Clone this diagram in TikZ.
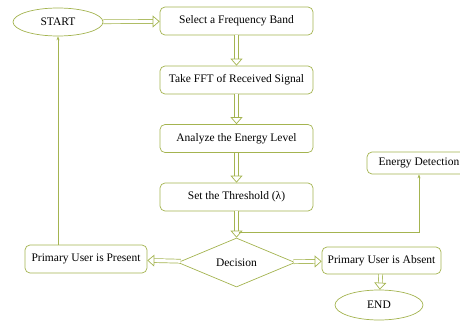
\documentclass[tikz,border=0pt]{standalone}
\usepackage{fontspec}
\setmainfont{Liberation Serif}
\usetikzlibrary{shapes.geometric,arrows.meta}
\definecolor{olivebox}{RGB}{164,180,80}
\begin{document}
\begin{tikzpicture}[x=1pt,y=-1pt]
			\tikzstyle{every node}+=[font=\fontsize{11.5}{13}\selectfont,inner sep=1pt]
			\tikzstyle{stepbox}=[draw=olivebox,fill=white,rounded corners=5pt,minimum width=153pt,minimum height=28pt,line width=0.7pt]
			\tikzstyle{termbox}=[draw=olivebox,fill=white,ellipse,line width=0.7pt]
			\tikzstyle{blockarrow}=[draw=olivebox,double=white,double distance=3.2pt,line width=0.7pt,-{Triangle[open,length=7pt,width=12pt,line width=0.7pt]}]
			\tikzstyle{thinarrow}=[draw=olivebox,line width=0.7pt,-{Stealth[length=4pt,width=3pt]}]
			\useasboundingbox (0,0) rectangle (460,321);
			\clip (0,0) rectangle (460,321);
			\node [termbox,minimum width=90pt,minimum height=28pt] (start) at (58,22) {START};
			\node [stepbox] (band) at (236.5,21) {Select a Frequency Band};
			\node [stepbox] (fft) at (236.5,80) {Take FFT of Received Signal};
			\node [stepbox] (level) at (236.5,138.5) {Analyze the Energy Level};
			\node [stepbox] (thresh) at (236.5,197) {Set the Threshold (λ)};
			\node [draw=olivebox,fill=white,diamond,aspect=2.4,inner sep=0pt,minimum width=117pt,minimum height=49pt,line width=0.7pt] (decide) at (236.5,262.5) {Decision};
			\node [stepbox,minimum width=122pt] (present) at (86,259) {Primary User is Present};
			\node [stepbox,minimum width=119pt,minimum height=27pt] (absent) at (381.5,260.5) {Primary User is Absent};
			\node [termbox,minimum width=88pt,minimum height=30pt] (finish) at (379,305) {END};
			\node [stepbox,minimum width=104pt,minimum height=22pt] (edetect) at (419,163) {Energy Detection};
			\coordinate (tap) at (238.5,232);
			\draw [blockarrow] (start) -- (band);
			\draw [blockarrow] (band) -- (fft);
			\draw [blockarrow] (fft) -- (level);
			\draw [blockarrow] (level) -- (thresh);
			\draw [blockarrow] (thresh) -- (decide);
			\draw [blockarrow] (decide) -- (present);
			\draw [blockarrow] (decide) -- (absent);
			\draw [blockarrow] (absent) -- (finish);
			\draw [thinarrow] (tap) -| (edetect);
			\draw [thinarrow] (present.north -| start) -- (start);
\end{tikzpicture}
\end{document}
